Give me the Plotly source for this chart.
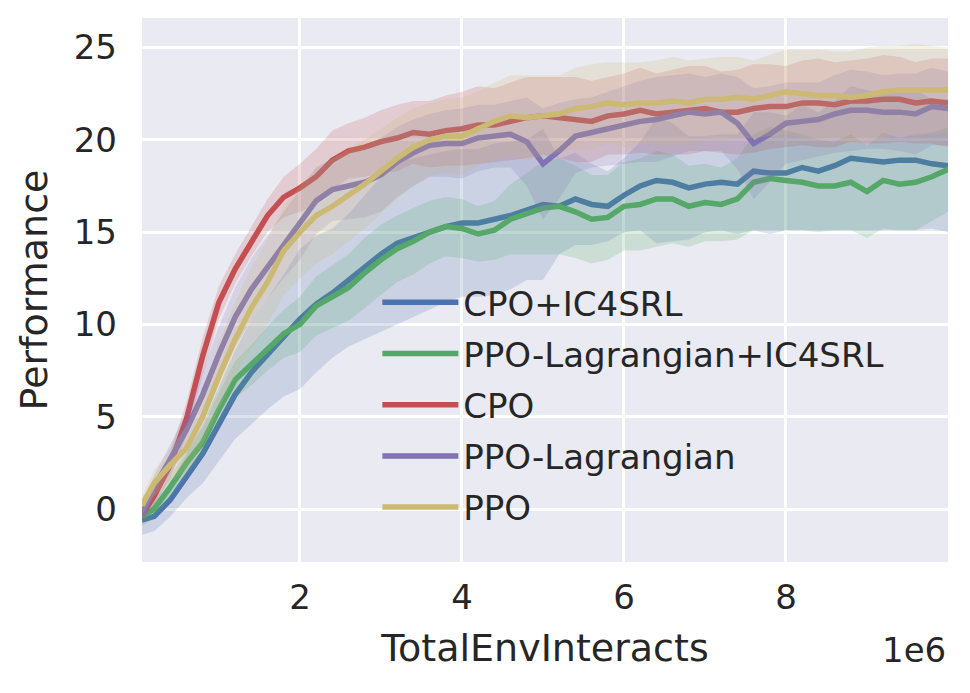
import numpy as np
import plotly.graph_objects as go

# x positions in units of 1e6 environment interactions
steps = [0.05, 0.2, 0.4, 0.6, 0.8, 1.0, 1.2, 1.4, 1.6, 1.8, 2.0, 2.2, 2.4, 2.6, 2.8,
         3.0, 3.2, 3.4, 3.6, 3.8, 4.0, 4.2, 4.4, 4.6, 4.8, 5.0, 5.2, 5.4, 5.6, 5.8,
         6.0, 6.2, 6.4, 6.6, 6.8, 7.0, 7.2, 7.4, 7.6, 7.8, 8.0, 8.2, 8.4, 8.6, 8.8,
         9.0, 9.2, 9.4, 9.6, 9.8, 10.0]

cpo_ic4srl = [-0.6, -0.4, 0.5, 1.8, 3.0, 4.6, 6.2, 7.4, 8.4, 9.4, 10.3, 11.1, 11.7, 12.4, 13.1,
              13.8, 14.4, 14.7, 15.0, 15.3, 15.5, 15.5, 15.7, 15.9, 16.2, 16.5, 16.4, 16.8, 16.5, 16.4,
              17.0, 17.5, 17.8, 17.7, 17.4, 17.6, 17.7, 17.6, 18.3, 18.2, 18.2, 18.5, 18.3, 18.6, 19.0,
              18.9, 18.8, 18.9, 18.9, 18.7, 18.6]
cpo_ic4srl_sd = [0.8, 0.8, 0.9, 1.2, 1.6, 2.0, 2.4, 2.8, 3.0, 3.3, 3.8, 3.7, 3.5, 3.6, 3.9,
                 4.2, 4.4, 4.3, 4.2, 4.1, 4.0, 4.0, 4.1, 4.0, 3.8, 4.1, 2.6, 2.5, 2.2, 1.9,
                 2.0, 2.4, 3.4, 3.2, 2.8, 2.6, 2.6, 2.7, 3.2, 3.3, 3.1, 3.4, 3.2, 3.5, 3.9,
                 3.8, 3.7, 3.8, 3.8, 3.5, 3.6]

ppol_ic4srl = [-0.4, 0.0, 1.2, 2.5, 3.6, 5.4, 7.0, 7.8, 8.7, 9.5, 10.0, 11.0, 11.5, 12.0, 12.8,
               13.5, 14.1, 14.5, 15.0, 15.3, 15.2, 14.9, 15.1, 15.7, 16.0, 16.3, 16.4, 16.1, 15.7, 15.8,
               16.4, 16.5, 16.8, 16.8, 16.4, 16.6, 16.5, 16.8, 17.7, 17.9, 17.8, 17.7, 17.5, 17.5, 17.7,
               17.2, 17.8, 17.6, 17.7, 18.0, 18.4]
ppol_ic4srl_sd = [0.5, 0.5, 0.6, 0.7, 0.8, 0.9, 1.0, 1.1, 1.2, 1.3, 1.5, 1.6, 1.7, 1.8, 1.9,
                  1.9, 1.8, 1.8, 1.7, 1.6, 1.6, 1.5, 1.6, 1.9, 2.2, 2.5, 2.6, 2.5, 2.4, 2.3,
                  2.4, 2.5, 2.6, 2.4, 2.2, 2.1, 2.0, 2.2, 2.6, 2.8, 2.7, 2.6, 2.5, 2.4, 2.6,
                  2.5, 2.6, 2.5, 2.6, 2.4, 2.3]

cpo = [-0.3, 0.7, 2.4, 4.9, 8.3, 11.2, 13.0, 14.5, 15.9, 16.9, 17.4, 18.0, 18.9, 19.4, 19.6,
       19.9, 20.1, 20.4, 20.3, 20.5, 20.6, 20.8, 20.8, 21.0, 21.2, 21.3, 21.2, 21.1, 21.0, 21.3,
       21.4, 21.6, 21.4, 21.5, 21.6, 21.7, 21.5, 21.5, 21.7, 21.8, 21.8, 22.0, 22.0, 21.9, 22.1,
       22.1, 22.2, 22.2, 22.0, 22.1, 22.0]
cpo_sd = [0.4, 0.5, 0.7, 0.9, 1.0, 0.9, 0.8, 0.8, 0.9, 1.1, 1.3, 1.5, 1.6, 1.5, 1.6,
          1.7, 1.8, 1.7, 1.8, 1.9, 2.0, 2.1, 2.0, 2.1, 2.2, 2.1, 2.2, 2.3, 2.2, 2.1,
          2.2, 2.3, 2.2, 2.3, 2.4, 2.3, 2.2, 2.3, 2.4, 2.3, 2.2, 2.3, 2.4, 2.3, 2.2,
          2.3, 2.4, 2.3, 2.2, 2.3, 2.4]

ppo_lag = [-0.3, 1.2, 2.7, 4.3, 6.2, 8.4, 10.4, 11.9, 13.1, 14.3, 15.4, 16.7, 17.3, 17.5, 17.7,
           18.1, 18.8, 19.3, 19.7, 19.8, 19.8, 20.1, 20.2, 20.3, 19.9, 18.7, 19.4, 20.2, 20.4, 20.6,
           20.8, 21.0, 21.1, 21.3, 21.5, 21.4, 21.5, 20.9, 19.8, 20.3, 20.9, 21.0, 21.1, 21.4, 21.6,
           21.6, 21.5, 21.5, 21.4, 21.8, 21.7]
ppo_lag_sd = [0.5, 0.6, 0.8, 1.0, 1.3, 1.5, 1.6, 1.7, 1.7, 1.8, 1.9, 1.8, 1.7, 1.8, 1.9,
              2.0, 1.9, 1.8, 1.7, 1.8, 1.9, 1.8, 1.7, 1.8, 2.4, 3.0, 2.6, 2.0, 1.9, 2.0,
              2.1, 2.2, 2.3, 2.2, 2.1, 2.0, 2.1, 2.5, 3.0, 2.6, 2.2, 2.1, 2.0, 2.1, 2.2,
              2.1, 2.0, 2.1, 2.2, 2.1, 2.0]

ppo = [0.2, 1.4, 2.4, 3.3, 5.0, 7.2, 9.2, 10.9, 12.3, 14.0, 15.0, 15.9, 16.4, 17.0, 17.6,
       18.3, 19.0, 19.6, 20.0, 20.2, 20.2, 20.6, 21.0, 21.3, 21.2, 21.3, 21.4, 21.7, 21.8, 22.0,
       21.9, 22.0, 22.0, 22.1, 22.0, 22.2, 22.2, 22.3, 22.2, 22.4, 22.6, 22.5, 22.4, 22.4, 22.3,
       22.4, 22.6, 22.7, 22.7, 22.7, 22.7]
ppo_sd = [0.5, 0.7, 0.9, 1.2, 1.5, 1.8, 2.0, 2.2, 2.3, 2.4, 2.5, 2.6, 2.6, 2.5, 2.4,
          2.3, 2.2, 2.1, 2.0, 2.0, 2.1, 2.0, 2.1, 2.2, 2.3, 2.2, 2.1, 2.2, 2.3, 2.2,
          2.3, 2.2, 2.3, 2.4, 2.3, 2.2, 2.3, 2.2, 2.1, 2.2, 2.3, 2.4, 2.5, 2.4, 2.5,
          2.6, 2.5, 2.4, 2.5, 2.4, 2.3]

series = [
    ("CPO+IC4SRL", cpo_ic4srl, cpo_ic4srl_sd, (76, 114, 176)),
    ("PPO-Lagrangian+IC4SRL", ppol_ic4srl, ppol_ic4srl_sd, (85, 168, 104)),
    ("CPO", cpo, cpo_sd, (196, 78, 82)),
    ("PPO-Lagrangian", ppo_lag, ppo_lag_sd, (129, 114, 178)),
    ("PPO", ppo, ppo_sd, (204, 185, 116)),
]

y_ticks = [0, 5, 10, 15, 20, 25]
x_ticks = [2, 4, 6, 8]

FONT = "DejaVu Sans"
TXT = "#262626"

fig = go.Figure()
x = np.array(steps)
for i, (name, mean, sd, rgb) in enumerate(series):
    m = np.array(mean)
    s = np.array(sd)
    upper = m + s
    lower = m - s
    fig.add_trace(go.Scatter(
        x=np.concatenate([x, x[::-1]]),
        y=np.concatenate([upper, lower[::-1]]),
        fill="toself", mode="lines", line=dict(width=0),
        fillcolor="rgba(%d,%d,%d,0.2)" % rgb,
        hoverinfo="skip", showlegend=False,
    ))
    fig.add_trace(go.Scatter(
        x=x, y=m, mode="lines", name=name, legendgroup="g%d" % i,
        line=dict(color="rgb(%d,%d,%d)" % rgb, width=5.5),
    ))

# page body has an 8px default margin, so the figure is 8px smaller and margins shifted
fig.update_layout(
    width=962, height=685,
    margin=dict(l=134, r=22, t=10, b=131, autoexpand=False),
    paper_bgcolor="white", plot_bgcolor="#EAEAF2",
    font=dict(family=FONT, size=34, color=TXT),
    legend=dict(
        x=0.292, y=0.53, xanchor="left", yanchor="top",
        bgcolor="rgba(0,0,0,0)", font=dict(size=34, family=FONT, color=TXT),
        traceorder="grouped", tracegroupgap=4, itemwidth=76,
    ),
    xaxis=dict(
        range=[0.05, 10.0], tickvals=x_ticks, ticktext=[str(v) for v in x_ticks],
        showgrid=True, gridcolor="white", gridwidth=2.5, zeroline=False,
        ticks="", ticklabelstandoff=12, automargin=False,
        title=dict(text="TotalEnvInteracts", font=dict(size=38, family=FONT, color=TXT), standoff=18),
        tickfont=dict(size=34, family=FONT, color=TXT),
    ),
    yaxis=dict(
        range=[-2.87, 26.6], tickvals=y_ticks, ticktext=[str(v) for v in y_ticks],
        showgrid=True, gridcolor="white", gridwidth=2.5, zeroline=False,
        ticks="", ticklabelstandoff=24, automargin=False,
        title=dict(text="Performance", font=dict(size=38, family=FONT, color=TXT), standoff=14),
        tickfont=dict(size=34, family=FONT, color=TXT),
    ),
)

fig.add_annotation(
    text="1e6", xref="paper", yref="paper", x=1.0, y=-0.162,
    xanchor="right", yanchor="middle", showarrow=False,
    font=dict(size=34, family=FONT, color=TXT),
)

fig.write_html("out.html")
